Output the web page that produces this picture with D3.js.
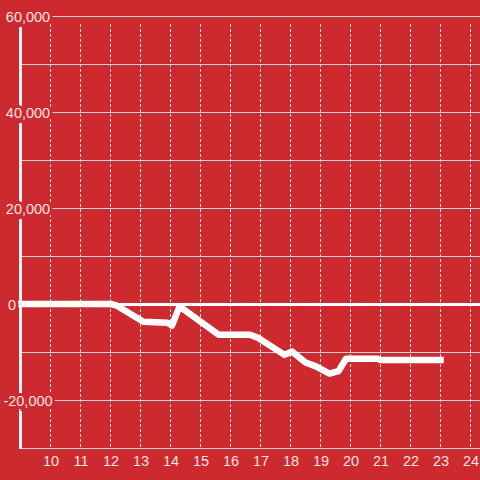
<!DOCTYPE html>
<html>
<head>
<meta charset="utf-8">
<script src="https://cdn.jsdelivr.net/npm/d3@7"></script>
<style>
  html, body { margin: 0; padding: 0; background: #cc2a2f; }
  svg { display: block; }
</style>
</head>
<body>
<script>
// ---- data ----
const hours  = [9, 12, 12.2, 13.1, 13.9, 14.05, 14.3, 15.6, 16.65, 16.9, 17.8, 18.05, 18.5, 18.85, 19.3, 19.6, 19.85, 20.9, 21.0, 23];
const values = [0, 0, -300, -3700, -3900, -4500, -500, -6400, -6400, -7000, -10600, -9900, -12200, -13000, -14500, -14000, -11400, -11400, -11650, -11650];
const xTicks = [10, 11, 12, 13, 14, 15, 16, 17, 18, 19, 20, 21, 22, 23, 24];
const yGrid  = [-30000, -20000, -10000, 10000, 20000, 30000, 40000, 50000, 60000];
const yLabels = [-20000, 0, 20000, 40000, 60000];

const W = 480, H = 480;
const bg = "#cc2a2f";
const textColor = "#f6e2e2";

const svg = d3.select("body").append("svg").attr("width", W).attr("height", H);
svg.append("rect").attr("width", W).attr("height", H).attr("fill", bg);

const x = d3.scaleLinear().domain([9, 24]).range([20.5, 470.5]);
const y = d3.scaleLinear().domain([-30000, 60000]).range([448, 16]);

// horizontal grid lines
svg.append("g").selectAll("line").data(yGrid).join("line")
  .attr("x1", 21).attr("x2", W)
  .attr("y1", d => Math.round(y(d)) + 0.5).attr("y2", d => Math.round(y(d)) + 0.5)
  .attr("stroke", "#d4d4d4").attr("stroke-width", 1);

// vertical dashed grid lines
svg.append("g").selectAll("line").data(xTicks).join("line")
  .attr("x1", d => x(d)).attr("x2", d => x(d))
  .attr("y1", 24).attr("y2", 447)
  .attr("stroke", "#e0e0e0").attr("stroke-width", 1)
  .attr("stroke-dasharray", "3,2");

// zero line
svg.append("line")
  .attr("x1", 21).attr("x2", W)
  .attr("y1", y(0) + 0.5).attr("y2", y(0) + 0.5)
  .attr("stroke", "#ffffff").attr("stroke-width", 3);

// data line
const data = hours.map((h, i) => ({h, v: values[i]}));
svg.append("path").datum(data)
  .attr("d", d3.line().x(d => x(d.h)).y(d => y(d.v)).curve(d3.curveLinear))
  .attr("fill", "none").attr("stroke", "#ffffff").attr("stroke-width", 6.5)
  .attr("stroke-linecap", "square").attr("stroke-linejoin", "round");

// y axis line
svg.append("line")
  .attr("x1", 20.5).attr("x2", 20.5).attr("y1", 24).attr("y2", 449)
  .attr("stroke", "#f2f2f2").attr("stroke-width", 3);

// x axis using d3 axis
const xAxis = svg.append("g").attr("transform", "translate(0,448)")
  .call(d3.axisBottom(x).tickValues(xTicks).tickSize(0).tickPadding(0).tickFormat(d3.format("d")));
xAxis.select(".domain").remove();
xAxis.selectAll("text")
  .attr("y", 18).attr("dy", 0)
  .attr("fill", textColor)
  .style("font-family", "'Liberation Sans', Arial, sans-serif")
  .style("font-size", "14.5px");

// y axis labels using d3 axis
const fmt = d => d3.format(",")(d).replace("\u2212", "-");
const yAxis = svg.append("g")
  .call(d3.axisLeft(y).tickValues(yLabels).tickSize(0).tickFormat(fmt));
yAxis.select(".domain").remove();
yAxis.selectAll("text")
  .attr("x", d => d === 0 ? 12 : 28)
  .attr("dy", "0.35em")
  .attr("text-anchor", "middle")
  .attr("fill", textColor)
  .attr("stroke", bg).attr("stroke-width", 6)
  .attr("paint-order", "stroke")
  .style("font-family", "'Liberation Sans', Arial, sans-serif")
  .style("font-size", "14.5px");
</script>
</body>
</html>
